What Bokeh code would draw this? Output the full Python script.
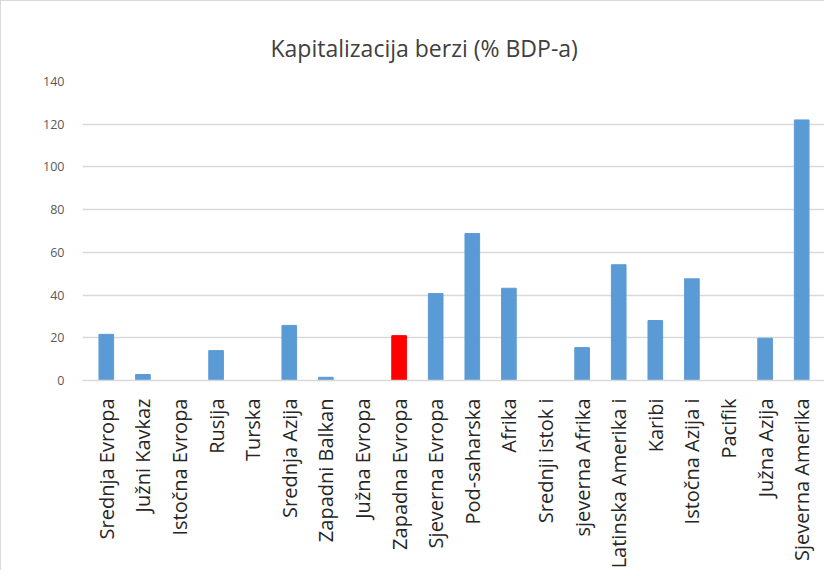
from bokeh.plotting import figure
from bokeh.models import FixedTicker, FactorRange
from bokeh.embed import file_html
from bokeh.resources import INLINE
from math import pi

categories = ["Srednja Evropa", "Južni Kavkaz", "Istočna Evropa", "Rusija", "Turska",
              "Srednja Azija", "Zapadni Balkan", "Južna Evropa", "Zapadna Evropa",
              "Sjeverna Evropa", "Pod-saharska", "Afrika", "Srednji istok i",
              "sjeverna Afrika", "Latinska Amerika i", "Karibi", "Istočna Azija i",
              "Pacifik", "Južna Azija", "Sjeverna Amerika"]
values = [21.6, 2.8, 0, 14.0, 0, 25.8, 1.5, 0, 21.0, 40.7, 68.8, 43.2, 0,
          15.4, 54.2, 28.1, 47.6, 0, 19.8, 122.0]
highlight = "Zapadna Evropa"
y_ticks = [0, 20, 40, 60, 80, 100, 120, 140]
title_text = "Kapitalizacija berzi (% BDP-a)"

colors = ["#ff0000" if c == highlight else "#5b9bd5" for c in categories]

p = figure(x_range=FactorRange(factors=categories, range_padding=0.015,
                               range_padding_units="percent"),
           y_range=(0, 140), width=824, height=570,
           output_backend="svg", toolbar_location=None,
           min_border_left=81, min_border_right=0, min_border_top=80, min_border_bottom=10)
p.styles = {"border-left": "1px solid #d9d9d9", "border-top": "1px solid #d9d9d9"}

p.vbar(x=categories, top=values, width=0.4, color=colors)

p.title.text = title_text
p.title.align = "left"
p.title.vertical_align = "top"
p.title.text_font = "Open Sans"
p.title.text_font_size = "23px"
p.title.text_font_style = "normal"
p.title.text_color = "#404040"
p.title.standoff = 32
p.title.offset = 188

p.outline_line_color = None
p.xgrid.grid_line_color = None
p.ygrid.grid_line_color = "#d9d9d9"
p.ygrid.grid_line_width = 1.3
p.yaxis.ticker = FixedTicker(ticks=y_ticks)
p.yaxis.axis_line_color = None
p.yaxis.major_tick_line_color = None
p.yaxis.minor_tick_line_color = None
p.yaxis.major_label_text_font = "Open Sans"
p.yaxis.major_label_text_font_size = "12.5px"
p.yaxis.major_label_text_color = "#595959"
p.yaxis.major_label_standoff = 12

p.xaxis.axis_line_color = "#d9d9d9"
p.xaxis.axis_line_width = 1.3
p.xaxis.major_tick_line_color = None
p.xaxis.minor_tick_line_color = None
p.xaxis.major_label_orientation = pi / 2
p.xaxis.major_label_text_font = "Open Sans"
p.xaxis.major_label_text_font_size = "20px"
p.xaxis.major_label_text_color = "#262626"
p.xaxis.major_label_standoff = 12

p.background_fill_color = "white"
p.border_fill_color = "white"

open("out.html", "w").write(file_html(p, INLINE))
